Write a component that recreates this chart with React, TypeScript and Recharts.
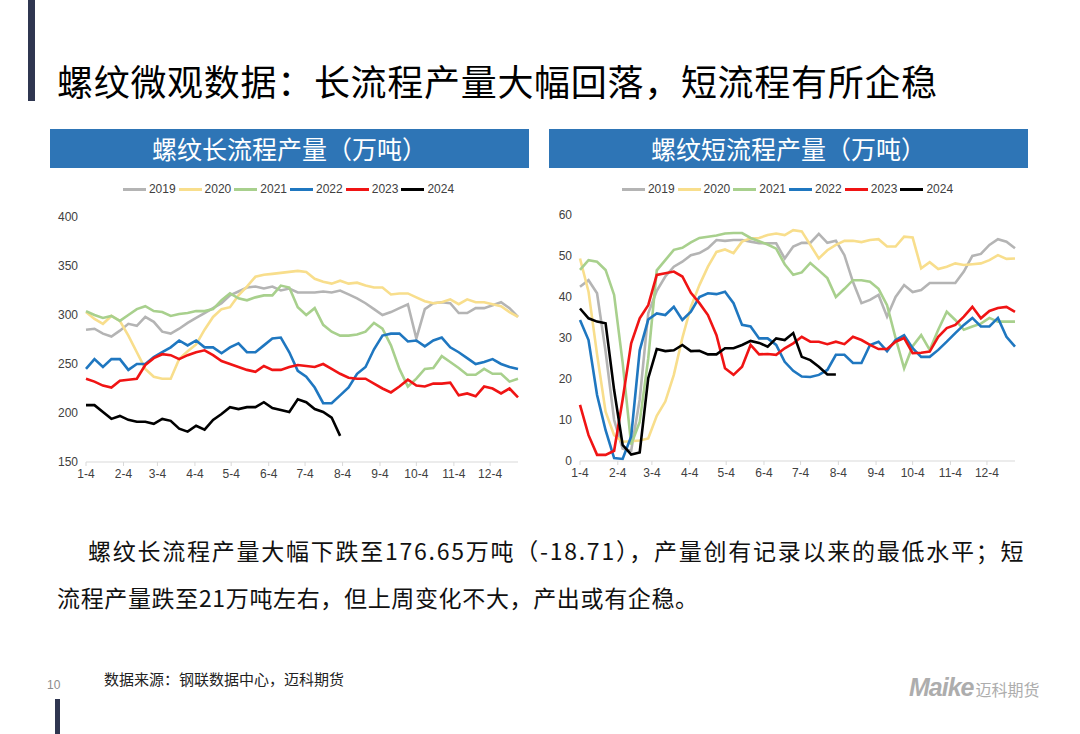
import React from 'react';
import { LineChart, Line, XAxis, YAxis, Legend } from 'recharts';

// ---------- data ----------
const years = ['2019', '2020', '2021', '2022', '2023', '2024'];
const yearColors = ['#B4B4B4', '#F8DE8C', '#A8D08D', '#1F77C0', '#F01414', '#000000'];

// x ticks (week index from 1-4) and their labels
const tickWeeks = [0, 4.43, 8.43, 12.86, 17.14, 21.57, 25.86, 30.29, 34.71, 39, 43.43, 47.71];
const tickLabels = ['1-4', '2-4', '3-4', '4-4', '5-4', '6-4', '7-4', '8-4', '9-4', '10-4', '11-4', '12-4'];

// 螺纹长流程产量（万吨）
const long2019 = [285, 286, 281, 278, 284, 291, 289, 298, 293, 283, 281, 286, 292, 297, 302, 307, 312, 320, 324, 328, 329, 327, 329, 325, 327, 323, 323, 323, 324, 323, 325, 321, 317, 312, 306, 300, 303, 307, 311, 276, 306, 312, 313, 312, 302, 302, 307, 307, 310, 313, 307, 298];
const long2020 = [303, 296, 291, 299, 294, 279, 262, 245, 237, 235, 235, 255, 263, 270, 285, 298, 306, 308, 320, 329, 339, 341, 342, 343, 344, 345, 344, 337, 334, 332, 335, 332, 333, 330, 328, 328, 321, 322, 322, 318, 314, 312, 313, 316, 311, 316, 313, 313, 311, 309, 303, 298];
const long2021 = [304, 300, 297, 299, 294, 300, 306, 309, 304, 303, 299, 301, 302, 304, 304, 306, 315, 322, 317, 315, 318, 320, 320, 330, 328, 308, 300, 307, 290, 283, 279, 279, 280, 283, 292, 286, 269, 245, 227, 235, 245, 246, 258, 252, 246, 239, 239, 245, 240, 240, 232, 235];
const long2022 = [245, 255, 247, 255, 255, 244, 250, 250, 257, 262, 267, 274, 269, 274, 267, 267, 261, 267, 271, 262, 262, 269, 276, 277, 262, 243, 237, 226, 210, 210, 218, 226, 240, 247, 265, 279, 281, 281, 273, 274, 268, 274, 277, 267, 262, 256, 250, 252, 255, 250, 247, 245];
const long2023 = [235, 232, 228, 226, 233, 234, 235, 249, 256, 260, 259, 255, 259, 262, 264, 259, 253, 250, 247, 244, 242, 248, 244, 244, 247, 249, 248, 247, 250, 245, 240, 236, 235, 235, 230, 225, 221, 227, 234, 228, 227, 230, 230, 231, 218, 220, 217, 227, 225, 220, 225, 216];
const long2024 = [208, 208, 201, 194, 197, 193, 191, 191, 189, 194, 192, 184, 181, 187, 183, 193, 199, 206, 204, 206, 206, 211, 205, 203, 201, 214, 211, 204, 201, 195.36, 176.65];
const longTicks = [150, 200, 250, 300, 350, 400];

// 螺纹短流程产量（万吨）
const short2019 = [42.5, 44.1, 40.9, 26.7, 10, 3, 2.5, 15, 36, 41.5, 45, 47.4, 48.6, 50.2, 50.7, 51.9, 53.9, 53.7, 53.9, 53.9, 53.5, 53.1, 53.1, 53.1, 49.4, 52.3, 53.2, 53.2, 55.4, 53.2, 53.7, 50.2, 43.7, 38.5, 39.3, 40.5, 35.2, 40, 42.9, 41.2, 41.7, 43.4, 43.4, 43.4, 43.4, 46.2, 50, 50.5, 52.7, 54.1, 53.5, 51.9];
const short2020 = [49.4, 41.3, 26, 12, 6.3, 4.7, 4.8, 5, 5.5, 11, 14.5, 21, 30, 37.6, 42.9, 47.4, 51, 51.6, 50.7, 53.5, 54.3, 54.4, 55.1, 55.5, 55.1, 56.3, 56, 52.7, 49.4, 51.4, 52.7, 53.7, 53.7, 53.4, 53.9, 54.1, 52.3, 52.3, 54.7, 54.5, 47, 48.5, 46.8, 47.4, 48.2, 47.8, 48, 48.2, 49, 50.2, 49.3, 49.4];
const short2021 = [46.6, 49, 48.6, 46.6, 40.5, 24, 4, 9.5, 25, 46.5, 49, 51.5, 52, 53.3, 54.4, 54.7, 55, 55.5, 55.6, 55.6, 54.4, 53.6, 52.8, 51.8, 48, 45.4, 46, 48.3, 46.5, 44.6, 40, 42, 44.1, 44.1, 43.7, 42, 38, 30, 22.6, 28, 30.7, 27.1, 32, 36.4, 34.4, 32, 32.8, 33.5, 34.9, 34, 34, 34];
const short2022 = [34.4, 29.5, 16.1, 7.5, 0.7, 0.5, 6, 27, 34.5, 36, 35.6, 37.6, 34.4, 36.4, 40, 40.9, 40.7, 41.3, 38.5, 33.2, 32.8, 29.9, 29.9, 28.3, 24.2, 22, 20.6, 20.5, 21, 22.2, 25.9, 25.9, 23.9, 23.9, 28.3, 29.1, 26.8, 29.5, 30.7, 27.5, 25.4, 25.4, 27.1, 29.1, 31.2, 33.2, 34.9, 32.8, 32.8, 34.9, 30.3, 27.9];
const short2023 = [13.7, 6.3, 1.5, 1.5, 2.5, 15, 28.7, 34.8, 38, 45.4, 45.8, 46.2, 45, 41, 38.5, 35.6, 30.7, 22.6, 21, 23, 28.3, 26, 26.1, 25.9, 27.5, 28.7, 30.3, 29.1, 29.1, 28.5, 29.1, 28.5, 30.3, 29.5, 28.3, 27.3, 27.3, 29.1, 30, 26.3, 26.4, 26.7, 30.3, 32.4, 33.2, 35.2, 37.6, 34.8, 36.6, 37.3, 37.6, 36.4];
const short2024 = [37.2, 34.8, 34, 33.6, 17.3, 3.9, 1.6, 2.1, 20.2, 27.3, 26.8, 27, 28.3, 26.8, 26.9, 26, 26, 27.5, 27.5, 28.3, 29.3, 28.8, 27.9, 29.9, 29.5, 31.2, 25.4, 24.6, 23, 21.1, 21.1];
const shortTicks = [0, 10, 20, 30, 40, 50, 60];

const weekCount = 52;

function buildRows(series: number[][]) {
  const rows: any[] = [];
  for (let w = 0; w < weekCount; w++) {
    const row: any = { w };
    years.forEach((y, i) => {
      row['y' + y] = w < series[i].length ? series[i][w] : null;
    });
    rows.push(row);
  }
  return rows;
}

const longRows = buildRows([long2019, long2020, long2021, long2022, long2023, long2024]);
const shortRows = buildRows([short2019, short2020, short2021, short2022, short2023, short2024]);

// ---------- styles ----------
const CJK = "'Noto Sans CJK SC', 'Noto Sans', sans-serif";
const LATIN = "'Liberation Sans Narrow', 'Liberation Sans', 'Noto Sans CJK SC', sans-serif";
const axisColor = '#D9D9D9';
const tickText = { fill: '#404040', fontSize: 12, fontFamily: LATIN };

const renderLegend = (props: any) => {
  const { payload } = props;
  return (
    <div style={{ display: 'flex', justifyContent: 'center', alignItems: 'center', height: 28, fontFamily: LATIN, fontSize: 12, color: '#404040' }}>
      {(payload || []).map((e: any) => (
        <div key={e.value} style={{ display: 'flex', alignItems: 'center', marginRight: 3 }}>
          <span style={{ display: 'inline-block', width: 23, height: 3, background: e.color, marginRight: 3 }} />
          <span>{e.value}</span>
        </div>
      ))}
    </div>
  );
};

function YearChart(props: { rows: any[]; domain: [number, number]; ticks: number[]; margin: any; yWidth: number }) {
  const { rows, domain, ticks, margin, yWidth } = props;
  return (
    <LineChart width={480} height={320} data={rows} margin={margin}>
      <Legend verticalAlign="top" align="center" height={28} content={renderLegend} wrapperStyle={{ top: 0, left: 0, width: 480 }} />
      <XAxis
        type="number"
        dataKey="w"
        domain={[0, 51]}
        ticks={tickWeeks}
        interval={0}
        tickFormatter={(v: number) => tickLabels[tickWeeks.indexOf(v)]}
        axisLine={{ stroke: axisColor }}
        tickLine={{ stroke: axisColor }}
        tickSize={4}
        tickMargin={3}
        tick={tickText}
        height={30}
        allowDecimals
      />
      <YAxis
        type="number"
        domain={domain}
        ticks={ticks}
        interval={0}
        axisLine={false}
        tickLine={false}
        tick={tickText}
        width={yWidth}
      />
      {years.map((y, i) => (
        <Line
          key={y}
          type="linear"
          dataKey={'y' + y}
          name={y}
          stroke={yearColors[i]}
          strokeWidth={2.6}
          dot={false}
          activeDot={false}
          isAnimationActive={false}
        />
      ))}
    </LineChart>
  );
}

function Header(props: { text: string; left: number }) {
  return (
    <div
      style={{
        position: 'absolute',
        left: props.left,
        top: 129,
        width: 479,
        height: 39,
        background: '#2E75B6',
        color: '#FFFFFF',
        fontFamily: CJK,
        fontSize: 25,
        lineHeight: '39px',
        textAlign: 'center',
      }}
    >
      {props.text}
    </div>
  );
}

export default function App() {
  return (
    <div style={{ position: 'absolute', left: 0, top: 0, width: 1080, height: 734, background: '#FFFFFF', overflow: 'hidden' }}>
      <div style={{ position: 'absolute', left: 28, top: 0, width: 7, height: 101, background: '#2F3650' }} />
      <div
        style={{
          position: 'absolute',
          left: 57,
          top: 58,
          fontFamily: CJK,
          fontSize: 36,
          lineHeight: '44px',
          color: '#000000',
          whiteSpace: 'nowrap',
          letterSpacing: 0.7,
        }}
      >
        螺纹微观数据：长流程产量大幅回落，短流程有所企稳
      </div>

      <Header text="螺纹长流程产量（万吨）" left={50} />
      <Header text="螺纹短流程产量（万吨）" left={549} />

      <div style={{ position: 'absolute', left: 50, top: 175 }}>
        <YearChart rows={longRows} domain={[150, 400]} ticks={longTicks} yWidth={30} margin={{ top: 14, right: 12, bottom: 3, left: 6 }} />
      </div>
      <div style={{ position: 'absolute', left: 549, top: 175 }}>
        <YearChart rows={shortRows} domain={[0, 60]} ticks={shortTicks} yWidth={30} margin={{ top: 12, right: 14, bottom: 4, left: 1 }} />
      </div>

      <div style={{ position: 'absolute', left: 88, top: 536, fontFamily: CJK, fontSize: 23, lineHeight: '28px', color: '#111', whiteSpace: 'nowrap', letterSpacing: 1.75 }}>
        螺纹长流程产量大幅下跌至176.65万吨（-18.71），产量创有记录以来的最低水平；短
      </div>
      <div style={{ position: 'absolute', left: 57, top: 583, fontFamily: CJK, fontSize: 23, lineHeight: '28px', color: '#111', whiteSpace: 'nowrap', letterSpacing: 0.65 }}>
        流程产量跌至21万吨左右，但上周变化不大，产出或有企稳。
      </div>

      <div style={{ position: 'absolute', left: 47, top: 678, fontFamily: LATIN, fontSize: 12, color: '#8C8C8C' }}>10</div>
      <div style={{ position: 'absolute', left: 104, top: 670, fontFamily: CJK, fontSize: 15, lineHeight: '18px', color: '#222', whiteSpace: 'nowrap' }}>
        数据来源：钢联数据中心，迈科期货
      </div>
      <div style={{ position: 'absolute', left: 55, top: 699, width: 5, height: 35, background: '#2F3650' }} />

      <div style={{ position: 'absolute', left: 909, top: 673, display: 'flex', alignItems: 'baseline', color: '#ADADAD', whiteSpace: 'nowrap' }}>
        <span style={{ fontFamily: "'Liberation Sans', sans-serif", fontSize: 25, fontWeight: 'bold', fontStyle: 'italic', letterSpacing: -1 }}>Maike</span>
        <span style={{ fontFamily: CJK, fontSize: 16, marginLeft: 2 }}>迈科期货</span>
      </div>
    </div>
  );
}
